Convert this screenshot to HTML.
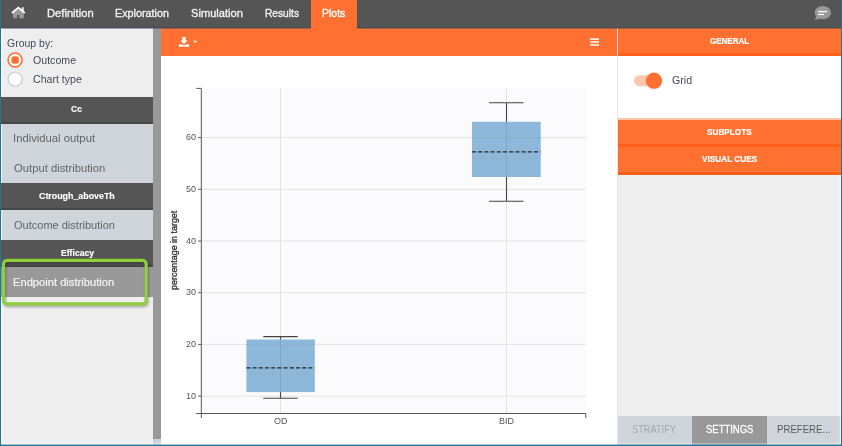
<!DOCTYPE html>
<html lang="en"><head><meta charset="utf-8"><title>Plots</title>
<style>
html,body{margin:0;padding:0}
body{width:842px;height:446px;overflow:hidden;background:#1f7892;position:relative;font-family:"Liberation Sans", sans-serif}
.abs,.t{position:absolute}
.t{z-index:2;white-space:nowrap;line-height:normal;transform-origin:0 50%;display:block}
#app{left:1px;top:0;width:840px;height:446px;background:#eeeeee;overflow:hidden}
#topbar{left:0;top:0;width:842px;height:27.4px;background:#555555}
#plotstab{left:311px;top:0;width:45.5px;height:29px;background:#ff7031}
.hdr{left:1px;width:152px;height:25px;background:#555555;border-bottom:2px solid #464646}
.item{left:1px;width:152px;background:#d0d5dc}
#scroll{left:153px;top:28px;width:8px;height:411px;background:#999999}
#scrollb{left:153px;top:439px;width:8px;height:7px;background:#c9d2de}
#center{left:161px;top:28px;width:456px;height:418px;background:#ffffff}
#ctool{left:161px;top:28px;width:456px;height:27.7px;background:#ff7031}
#sep{left:616.8px;top:28px;width:1.4px;height:418px;background:#e2e5ea}
.oh{left:618px;width:223px;background:#ff7031;border-bottom:3px solid #ff5f17;height:24px}
#genbody{left:618px;top:56px;width:223px;height:62px;background:#ffffff}
.bt{top:415.5px;height:30.5px}
</style></head><body>
<div id="app" class="abs"></div>
<nav>
<div id="topbar" class="abs"></div>
<div id="plotstab" class="abs"></div>
<span id="t1" class="t" style="left:46.66px;top:7px;font-size:11.5px;font-weight:400;color:#f2f2f2;transform:scaleX(0.9725);-webkit-text-stroke:0.35px #f2f2f2">Definition</span>
<span id="t2" class="t" style="left:115.34px;top:7px;font-size:11.5px;font-weight:400;color:#f2f2f2;transform:scaleX(0.9375);-webkit-text-stroke:0.35px #f2f2f2">Exploration</span>
<span id="t3" class="t" style="left:191.01px;top:7px;font-size:11.5px;font-weight:400;color:#f2f2f2;transform:scaleX(0.9678);-webkit-text-stroke:0.35px #f2f2f2">Simulation</span>
<span id="t4" class="t" style="left:265.02px;top:7px;font-size:11.5px;font-weight:400;color:#f2f2f2;transform:scaleX(0.8859);-webkit-text-stroke:0.35px #f2f2f2">Results</span>
<span id="t5" class="t" style="left:321.84px;top:7px;font-size:11.5px;font-weight:400;color:#ffffff;transform:scaleX(0.9140);-webkit-text-stroke:0.35px #ffffff">Plots</span>
</nav>
<div class="abs" style="left:0;top:0;width:1.1px;height:446px;background:#1f7892"></div>
<!-- left panel -->
<aside>
<span id="t6" class="t" style="left:6.94px;top:38px;font-size:10.3px;font-weight:400;color:#444a5a;transform:scaleX(1.0202)">Group by:</span>
<span id="t7" class="t" style="left:32.89px;top:55px;font-size:10.3px;font-weight:400;color:#444a5a;transform:scaleX(1.0304)">Outcome</span>
<span id="t8" class="t" style="left:32.80px;top:74px;font-size:10.3px;font-weight:400;color:#444a5a;transform:scaleX(1.0269)">Chart type</span>
<div class="abs hdr" style="top:97px"></div><span id="t9" class="t" style="left:71.43px;top:104px;font-size:9.3px;font-weight:700;color:#ffffff;transform:scaleX(0.9181);-webkit-text-stroke:0.15px #ffffff">Cc</span>
<div class="abs item" style="top:124px;height:59px"></div><span id="t10" class="t" style="left:12.74px;top:132px;font-size:10.8px;font-weight:400;color:#646464;transform:scaleX(1.0430)">Individual output</span>
<span id="t11" class="t" style="left:13.62px;top:162px;font-size:10.8px;font-weight:400;color:#646464;transform:scaleX(1.0427)">Output distribution</span>
<div class="abs hdr" style="top:183px"></div><span id="t12" class="t" style="left:38.87px;top:191px;font-size:9.3px;font-weight:700;color:#ffffff;transform:scaleX(0.9519);-webkit-text-stroke:0.15px #ffffff">Ctrough_aboveTh</span>
<div class="abs item" style="top:210px;height:30px"></div><span id="t13" class="t" style="left:13.65px;top:219px;font-size:10.8px;font-weight:400;color:#646464;transform:scaleX(1.0200)">Outcome distribution</span>
<div class="abs hdr" style="top:240px"></div><span id="t14" class="t" style="left:60.74px;top:248px;font-size:9.3px;font-weight:700;color:#ffffff;transform:scaleX(0.9269);-webkit-text-stroke:0.15px #ffffff">Efficacy</span>
<div class="abs item" style="top:267px;height:30px;background:#999999"></div><span id="t15" class="t" style="left:13.37px;top:276px;font-size:10.8px;font-weight:400;color:#f4f4f4;transform:scaleX(1.0338);-webkit-text-stroke:0.2px #f4f4f4">Endpoint distribution</span>
<div id="scroll" class="abs"></div><div id="scrollb" class="abs"></div>
</aside>
<!-- center -->
<main>
<div id="center" class="abs"></div>
<div id="ctool" class="abs"></div>
<div id="sep" class="abs"></div>
</main>
<!-- right panel -->
<aside>
<div class="abs oh" style="top:28px;height:25px"></div><span id="t16" class="t" style="left:709.94px;top:36px;font-size:9.2px;font-weight:700;color:#ffffff;transform:scaleX(0.8700);-webkit-text-stroke:0.2px #ffffff">GENERAL</span>
<div id="genbody" class="abs"></div><span id="t17" class="t" style="left:671.61px;top:75px;font-size:10.3px;font-weight:400;color:#444a5a;transform:scaleX(1.0322)">Grid</span>
<div class="abs" style="left:618px;top:117.6px;width:223px;height:2px;background:#ffc3aa"></div>
<div class="abs oh" style="top:119.5px;height:24.5px"></div><span id="t18" class="t" style="left:706.99px;top:127px;font-size:9.2px;font-weight:700;color:#ffffff;transform:scaleX(0.8917);-webkit-text-stroke:0.2px #ffffff">SUBPLOTS</span>
<div class="abs oh" style="top:147px;height:24.5px"></div><span id="t19" class="t" style="left:702.00px;top:154px;font-size:9.2px;font-weight:700;color:#ffffff;transform:scaleX(0.8970);-webkit-text-stroke:0.2px #ffffff">VISUAL CUES</span>
<div class="abs bt" style="left:618px;width:74px;background:#d0d5dc"></div><span id="t20" class="t" style="left:632.28px;top:423px;font-size:11.2px;font-weight:400;color:#a3a7ad;transform:scaleX(0.8257)">STRATIFY</span>
<div class="abs bt" style="left:692px;width:75px;background:#999999"></div><span id="t21" class="t" style="left:705.77px;top:423px;font-size:11.2px;font-weight:400;color:#ffffff;transform:scaleX(0.8474);-webkit-text-stroke:0.3px #ffffff">SETTINGS</span>
<div class="abs bt" style="left:767px;width:74px;background:#d0d5dc"></div><span id="t22" class="t" style="left:777.24px;top:423px;font-size:11.2px;font-weight:400;color:#5a5a5a;transform:scaleX(0.8608)">PREFERE...</span>
</aside>
<!-- graphics overlay -->
<svg class="abs" style="left:0;top:0" width="842" height="446" viewBox="0 0 842 446" font-family='"Liberation Sans", sans-serif'>
 <rect x="1" y="27" width="310" height="1.5" fill="#4a4e54"/><rect x="356.5" y="27" width="484.5" height="1.5" fill="#4a4e54"/>
 <g fill="#ffffff" fill-opacity="0.7"><rect x="1.1" y="28.5" width="1" height="68.5"/><rect x="1.1" y="124" width="1" height="59"/><rect x="1.1" y="210" width="1" height="30"/><rect x="1.1" y="297" width="1" height="147.6"/><rect x="839.8" y="175" width="1" height="269.6"/><rect x="2.1" y="443.6" width="159" height="1"/><rect x="617" y="443.6" width="222.8" height="1"/></g>
 <!-- home icon -->
 <path d="M13 12.2 L13 18.2 L17.1 18.2 L17.1 15 L19.3 15 L19.3 18.2 L23.8 18.2 L23.8 12.4 L18.3 8.4 Z" fill="#9a9a9a"/>
 <rect x="21.7" y="7.3" width="2" height="4" fill="#f4f4f4"/>
 <path d="M12 13 L18.3 7.6 L24.8 13" fill="none" stroke="#ffffff" stroke-width="1.8" stroke-linejoin="miter"/>
 <!-- chat icon -->
 <ellipse cx="822.8" cy="12.6" rx="8.2" ry="6.6" fill="#999999"/>
 <path d="M816.5 15.5 L814.8 20.3 L820.5 18.2 Z" fill="#999999"/>
 <rect x="818" y="10.9" width="9" height="1.3" fill="#ffffff"/>
 <rect x="818" y="13.8" width="6.1" height="1.3" fill="#ffffff"/>
 <!-- radios -->
 <circle cx="15.1" cy="60" r="7" fill="#ffffff" stroke="#ff7031" stroke-width="1.6"/>
 <rect x="11.4" y="56.3" width="7.4" height="7.4" rx="2.6" fill="#ff7031"/>
 <circle cx="15.1" cy="79.1" r="7" fill="#ffffff" stroke="#cdd1d8" stroke-width="1.4"/>
 <!-- download icon -->
 <path d="M182.3 37 L185.7 37 L185.7 40.6 L187.8 40.6 L184 44 L180.2 40.6 L182.3 40.6 Z" fill="#ffffff"/>
 <path d="M178.8 44.2 L181.6 44.2 L184 45.6 L186.4 44.2 L189.1 44.2 L189.1 46.8 L178.8 46.8 Z" fill="#ffffff"/>
 <path d="M193.1 40.8 L197.4 40.8 L195.25 43 Z" fill="#ffffff"/>
 <!-- hamburger -->
 <g fill="#ffe9e0"><rect x="590" y="38.2" width="9" height="1.8"/><rect x="590" y="41.1" width="9" height="1.8"/><rect x="590" y="44.1" width="9" height="1.8"/></g>
 <!-- toggle -->
 <rect x="634" y="75.2" width="27" height="11" rx="5.5" fill="#ffc7b0"/>
 <circle cx="654" cy="81.6" r="8" fill="#b9c4cc" opacity="0.45"/>
 <circle cx="654" cy="80.7" r="8.1" fill="#ff7031"/>
 <!-- chart -->
 <rect x="201.5" y="88" width="384.3" height="325.5" fill="#fbfbfd"/>
 <g stroke="#e2e2e4" stroke-width="1"><line x1="201.5" x2="585.8" y1="137.60" y2="137.60"/><line x1="201.5" x2="585.8" y1="189.30" y2="189.30"/><line x1="201.5" x2="585.8" y1="241.00" y2="241.00"/><line x1="201.5" x2="585.8" y1="292.70" y2="292.70"/><line x1="201.5" x2="585.8" y1="344.40" y2="344.40"/><line x1="201.5" x2="585.8" y1="396.20" y2="396.20"/><line x1="280.5" x2="280.5" y1="88" y2="413.5"/><line x1="506.5" x2="506.5" y1="88" y2="413.5"/></g>
 <g stroke="#555555" stroke-width="1" fill="none">
  <path d="M196.3 88.4 L201.3 88.4 L201.3 418"/>
  <path d="M196.3 413.5 L585.8 413.5 L585.8 418"/>
  <line x1="198.2" x2="201" y1="137.60" y2="137.60"/><line x1="198.2" x2="201" y1="189.30" y2="189.30"/><line x1="198.2" x2="201" y1="241.00" y2="241.00"/><line x1="198.2" x2="201" y1="292.70" y2="292.70"/><line x1="198.2" x2="201" y1="344.40" y2="344.40"/><line x1="198.2" x2="201" y1="396.20" y2="396.20"/>
 </g>
 <g stroke="#444444" stroke-width="1.1" fill="none">
  <path d="M280.5 336.6 L280.5 398.3 M263.3 336.6 L297.7 336.6 M263.3 398.3 L297.7 398.3"/>
  <path d="M506.5 102.8 L506.5 201.3 M489.1 102.8 L523.6 102.8 M489.1 201.3 L523.6 201.3"/>
 </g>
 <rect x="246.4" y="339.5" width="68.4" height="52.6" fill="#8db8d9"/>
 <rect x="472" y="121.8" width="68.7" height="55.2" fill="#8db8d9"/>
 <g stroke="#7fa6c4" stroke-width="1"><line x1="280.5" x2="280.5" y1="339.5" y2="392.1"/><line x1="506.5" x2="506.5" y1="121.8" y2="177"/></g>
 <g stroke="#8aa9c2" stroke-width="1" opacity="0.6"><line x1="246.4" x2="314.8" y1="344.4" y2="344.4"/><line x1="472" x2="540.7" y1="137.6" y2="137.6"/></g>
 <g stroke="#222222" stroke-width="1.2" stroke-dasharray="4 2.2">
  <line x1="246.4" x2="314.8" y1="367.8" y2="367.8"/><line x1="472" x2="540.7" y1="151.8" y2="151.8"/>
 </g>
 <g font-size="9" fill="#555555"><text x="196" y="140.1" text-anchor="end">60</text><text x="196" y="191.8" text-anchor="end">50</text><text x="196" y="243.5" text-anchor="end">40</text><text x="196" y="295.2" text-anchor="end">30</text><text x="196" y="346.9" text-anchor="end">20</text><text x="196" y="398.7" text-anchor="end">10</text>
  <text x="280.7" y="424.3" text-anchor="middle">OD</text>
  <text x="506.6" y="424.3" text-anchor="middle">BID</text>
 </g>
 <text transform="translate(177.2 289.9) rotate(-90)" font-size="8.9" fill="#2e2e2e" stroke="#2e2e2e" stroke-width="0.3" textLength="79.2" lengthAdjust="spacingAndGlyphs">percentage in target</text>
 <!-- green highlight -->
 <rect x="4.5" y="262.2" width="142.7" height="43.4" rx="3.6" fill="none" stroke="#000000" stroke-opacity="0.30" stroke-width="3.2" filter="url(#bl)"/>
 <rect x="3.5" y="260.4" width="142.7" height="43.5" rx="3.6" fill="none" stroke="#8dd03c" stroke-width="3.2"/>
 <rect x="0" y="444.6" width="842" height="1.4" fill="#1f7892"/>
 <defs><filter id="bl" x="-10%" y="-20%" width="120%" height="140%"><feGaussianBlur stdDeviation="1.1"/></filter></defs>
</svg>
<div class="abs" style="left:840.8px;top:0;width:1.2px;height:446px;background:#1f7892"></div>
</body></html>
